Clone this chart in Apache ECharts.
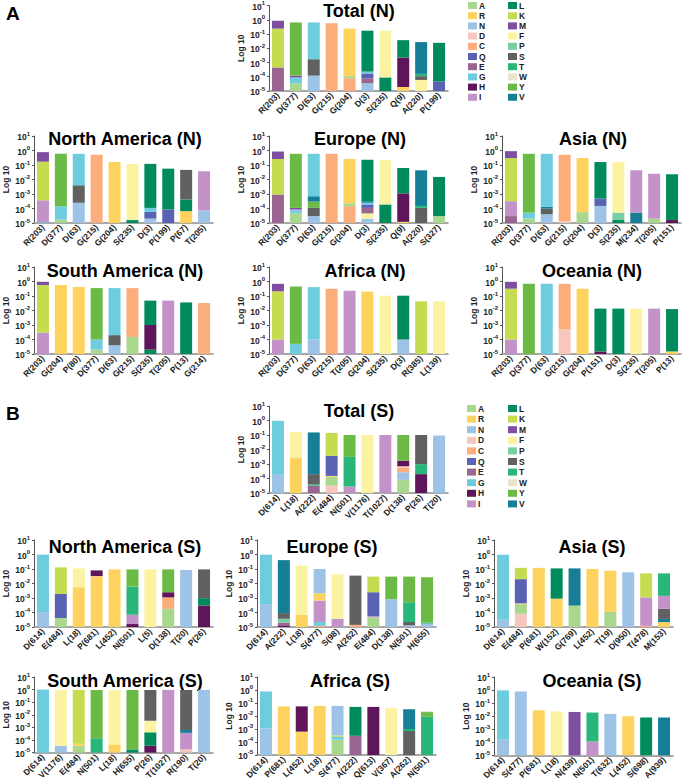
<!DOCTYPE html>
<html><head><meta charset="utf-8">
<script src="https://cdn.jsdelivr.net/npm/echarts@6/dist/echarts.min.js"></script>
<style>html,body{margin:0;padding:0;background:#fff}#c{width:685px;height:782px}</style>
</head><body><div id="c"></div>
<script>
// amino-acid legend keys and colours
const AA = ['A','R','N','D','C','Q','E','G','H','I','L','K','M','F','P','S','T','W','Y','V'];
const AA_COLORS = ['#a9d78e','#fed25e','#9dc3e7','#f6c7bd','#fbad7b','#5a62b3','#9b6592','#6dcddf','#5f1559','#c292c8',
                   '#008b5d','#c6dc50','#7f4ea0','#fbf3a2','#78cea2','#616161','#29b67a','#ebe4cc','#6aba45','#177e97'];
// tick label exponents (10^n)
const Y_EXPONENTS = [-5,-4,-3,-2,-1,0,1];

// Each bar: list of [amino acid, cumulative top of that segment] from bottom to top
const totalN_cats = ['R(203)','D(377)','D(63)','G(215)','G(204)','D(3)','S(235)','Q(9)','A(220)','P(199)'];
const totalN_stacks = [
  [['E',4.5e-4],['K',0.24],['M',0.85]],
  [['A',3.5e-5],['G',9e-5],['M',1.2e-4],['Y',0.65]],
  [['N',1.2e-4],['S',1.7e-3],['G',0.65]],
  [['C',0.56]],
  [['C',7.8e-5],['A',1.1e-4],['R',0.24]],
  [['N',3.5e-5],['E',7.8e-5],['Q',1.7e-4],['G',2.3e-4],['L',0.17]],
  [['L',9e-5],['F',0.17]],
  [['R',1.9e-5],['H',2.2e-3],['L',0.037]],
  [['F',6e-5],['S',1.1e-4],['T',1.6e-4],['V',0.027]],
  [['Q',4.6e-5],['L',0.024]]
];
const naN_cats = ['R(203)','D(377)','D(63)','G(215)','G(204)','S(235)','D(3)','P(199)','P(67)','T(205)'];
const naN_stacks = [
  [['G',1.15e-5],['I',3.7e-4],['K',0.17],['M',0.77]],
  [['A',1.7e-5],['G',1.4e-4],['Y',0.6]],
  [['N',2.5e-4],['S',4e-3],['G',0.59]],
  [['C',0.51]],
  [['R',0.16]],
  [['L',1.6e-5],['F',0.12]],
  [['N',2e-5],['Q',5.9e-5],['G',1.1e-4],['L',0.12]],
  [['Q',8.6e-5],['L',0.056]],
  [['R',6.6e-5],['L',4.2e-4],['S',0.046]],
  [['N',7.4e-5],['I',0.037]]
];
const euN_cats = ['R(203)','D(377)','D(63)','G(215)','G(204)','D(3)','S(235)','Q(9)','A(220)','S(327)'];
const euN_stacks = [
  [['E',9.3e-4],['K',0.26],['M',0.85]],
  [['A',4.6e-5],['G',6.6e-5],['N',8.5e-5],['M',1.1e-4],['Y',0.59]],
  [['N',3e-5],['S',1.1e-4],['Y',3e-4],['V',7e-4],['G',0.59]],
  [['C',0.59]],
  [['C',1.45e-4],['A',2.3e-4],['R',0.26]],
  [['N',2e-5],['F',4.6e-5],['E',1.1e-4],['Q',1.9e-4],['G',2.5e-4],['V',3.2e-4],['L',0.23]],
  [['L',1.9e-4],['F',0.23]],
  [['R',1.2e-5],['H',1.1e-3],['L',0.062]],
  [['S',1.1e-4],['T',1.5e-4],['V',0.043]],
  [['A',3e-5],['L',0.015]]
];
const asN_cats = ['R(203)','D(377)','D(63)','G(215)','G(204)','D(3)','S(235)','M(234)','T(205)','P(151)'];
const asN_stacks = [
  [['E',3e-5],['I',3.2e-4],['K',0.3],['M',0.9]],
  [['A',2e-5],['G',5.2e-5],['Y',0.59]],
  [['N',4e-5],['S',9.7e-5],['V',1.3e-4],['G',0.59]],
  [['D',1.4e-5],['C',0.51]],
  [['A',5.6e-5],['R',0.3]],
  [['N',1.5e-4],['Q',4.5e-4],['V',5e-4],['L',0.16]],
  [['L',1.6e-5],['P',5.2e-5],['F',0.16]],
  [['V',5.2e-5],['I',0.043]],
  [['A',2e-5],['I',0.025]],
  [['H',1.6e-5],['L',0.023]]
];
const saN_cats = ['R(203)','G(204)','P(80)','D(377)','D(63)','G(215)','S(235)','T(205)','P(13)','G(214)'];
const saN_stacks = [
  [['I',3e-4],['K',0.57],['M',0.95]],
  [['R',0.57]],
  [['R',0.41]],
  [['A',2e-5],['G',1e-4],['Y',0.35]],
  [['N',4e-5],['S',2e-4],['G',0.35]],
  [['A',1.5e-4],['C',0.35]],
  [['L',2e-5],['H',1e-3],['L',0.048]],
  [['I',0.048]],
  [['L',0.036]],
  [['C',0.033]]
];
const afN_cats = ['R(203)','D(377)','D(63)','G(215)','T(205)','G(204)','S(235)','D(3)','R(385)','L(139)'];
const afN_stacks = [
  [['I',1e-4],['K',0.21],['M',0.69]],
  [['G',5e-5],['Y',0.45]],
  [['N',1e-4],['G',0.41]],
  [['C',0.32]],
  [['I',0.23]],
  [['R',0.2]],
  [['F',0.105]],
  [['N',1e-4],['L',0.105]],
  [['K',0.043]],
  [['F',0.043]]
];
const ocN_cats = ['R(203)','D(377)','D(63)','G(215)','G(204)','P(151)','D(3)','S(235)','T(205)','P(13)'];
const ocN_stacks = [
  [['I',1e-4],['K',0.32],['M',0.95]],
  [['Y',0.69]],
  [['G',0.69]],
  [['D',5e-4],['C',0.69]],
  [['R',0.32]],
  [['H',1.5e-5],['L',0.0135]],
  [['L',0.0135]],
  [['F',0.0135]],
  [['I',0.0135]],
  [['R',1.5e-5],['L',0.0125]]
];
const totalS_cats = ['D(614)','L(18)','A(222)','E(484)','N(501)','V(1176)','T(1027)','D(138)','P(26)','T(20)'];
const totalS_stacks = [
  [['N',2e-4],['G',0.95]],
  [['R',2.8e-3],['F',0.16]],
  [['E',3.2e-5],['T',4e-5],['S',2e-4],['V',0.15]],
  [['D',3.2e-5],['A',1.3e-4],['R',1.5e-4],['Q',3.7e-3],['K',0.14]],
  [['I',2.8e-5],['T',3.1e-3],['Y',0.1]],
  [['F',0.1]],
  [['I',0.1]],
  [['A',8e-5],['N',2.7e-4],['C',5.7e-4],['D',7e-4],['H',1.7e-3],['Y',0.1]],
  [['H',2e-4],['T',9.8e-4],['S',0.1]],
  [['N',0.092]]
];
const naS_cats = ['D(614)','E(484)','L(18)','P(681)','L(452)','N(501)','L(5)','D(138)','T(20)','P(26)'];
const naS_stacks = [
  [['N',1.07e-4],['G',0.98]],
  [['A',4.2e-5],['Q',1.9e-3],['K',0.13]],
  [['R',5.5e-3],['F',0.11]],
  [['R',0.03],['C',0.033],['H',0.08]],
  [['R',0.094]],
  [['H',1.6e-5],['I',7e-5],['T',6.1e-3],['Y',0.094]],
  [['F',0.094]],
  [['A',1.8e-4],['C',1.1e-3],['H',2.5e-3],['Y',0.094]],
  [['N',0.085]],
  [['H',3e-4],['L',9.7e-4],['S',0.094]]
];
const euS_cats = ['D(614)','A(222)','L(18)','S(477)','S(98)','A(262)','E(484)','D(138)','N(501)','H(655)'];
const euS_stacks = [
  [['N',3.8e-4],['G',0.98]],
  [['H',1.3e-5],['E',2e-5],['P',3.7e-5],['S',9.1e-5],['V',0.41]],
  [['R',6.9e-5],['F',0.17]],
  [['C',1.2e-5],['G',2.2e-5],['I',6.7e-4],['R',2.1e-3],['N',0.1]],
  [['I',3.7e-5],['F',0.043]],
  [['C',1.4e-5],['S',0.035]],
  [['A',4.6e-5],['I',5.6e-5],['Q',2.5e-3],['K',0.03]],
  [['N',8.3e-4],['Y',0.03]],
  [['N',1.3e-5],['S',2.2e-5],['T',5.1e-4],['Y',0.03]],
  [['N',1.7e-5],['T',2e-5],['Y',0.027]]
];
const asS_cats = ['D(614)','E(484)','P(681)','W(152)','G(769)','L(452)','T(19)','D(950)','T(478)','M(153)'];
const asS_stacks = [
  [['N',3.2e-5],['G',0.98]],
  [['D',8.1e-5],['A',3.8e-4],['R',4.3e-4],['Q',0.02],['K',0.12]],
  [['R',0.12]],
  [['R',9e-4],['L',0.11]],
  [['A',3e-4],['V',0.11]],
  [['R',0.1]],
  [['A',1.1e-4],['R',0.076]],
  [['N',0.059]],
  [['C',1.2e-5],['I',1.1e-3],['K',0.05]],
  [['R',2.2e-5],['V',3.6e-5],['S',1.8e-4],['I',1.4e-3],['T',0.05]]
];
const saS_cats = ['D(614)','V(1176)','E(484)','N(501)','L(18)','H(655)','P(26)','T(1027)','R(190)','T(20)'];
const saS_stacks = [
  [['G',1.0]],
  [['N',3.5e-5],['F',0.95]],
  [['A',3.5e-5],['R',5e-5],['K',0.95]],
  [['T',1.4e-4],['Y',0.93]],
  [['R',4.5e-5],['F',0.93]],
  [['L',1.8e-5],['Y',0.93]],
  [['H',3.5e-5],['L',4.1e-4],['F',3.4e-3],['S',0.93]],
  [['I',0.95]],
  [['D',1.8e-5],['I',3.7e-4],['V',6.3e-4],['S',0.93]],
  [['N',0.95]]
];
const afS_cats = ['D(614)','P(681)','L(452)','L(18)','S(477)','A(222)','Q(613)','V(367)','A(262)','N(501)'];
const afS_stacks = [
  [['N',1.1e-3],['G',0.77]],
  [['R',0.055]],
  [['R',6.3e-4],['H',0.055]],
  [['R',0.06]],
  [['A',1.5e-4],['G',2.5e-4],['K',3.2e-4],['N',0.06]],
  [['E',3e-4],['L',0.05]],
  [['H',0.05]],
  [['F',0.042]],
  [['S',7e-4],['T',1e-3],['V',0.033]],
  [['T',8.7e-3],['Y',0.02],['A',0.022]]
];
const ocS_cats = ['D(614)','S(477)','P(681)','L(18)','N(439)','N(501)','T(632)','L(452)','S(698)','A(939)'];
const ocS_stacks = [
  [['N',1.7e-4],['G',0.95]],
  [['N',0.77]],
  [['R',0.028]],
  [['F',0.023]],
  [['M',0.021]],
  [['I',1.15e-4],['T',0.019]],
  [['N',0.015]],
  [['R',0.01]],
  [['L',0.0079]],
  [['V',0.0079]]
];

// ---------- layout (positions only) ----------
const ROWY = {aT:4, a1:136, a2:267, bT:406, b1:540, b2:677}; // y of 10^1
const PANELS = [
  {title:'Total (N)', cats:totalN_cats, stacks:totalN_stacks, left:269, top:ROWY.aT, tx:359, ty:11},
  {title:'North America (N)', cats:naN_cats, stacks:naN_stacks, left:34, top:ROWY.a1, tx:125, ty:139},
  {title:'Europe (N)', cats:euN_cats, stacks:euN_stacks, left:269, top:ROWY.a1, tx:360, ty:139},
  {title:'Asia (N)', cats:asN_cats, stacks:asN_stacks, left:502, top:ROWY.a1, tx:593, ty:139},
  {title:'South America (N)', cats:saN_cats, stacks:saN_stacks, left:34, top:ROWY.a2, tx:125, ty:271},
  {title:'Africa (N)', cats:afN_cats, stacks:afN_stacks, left:269, top:ROWY.a2, tx:365, ty:271},
  {title:'Oceania (N)', cats:ocN_cats, stacks:ocN_stacks, left:502, top:ROWY.a2, tx:592, ty:271},
  {title:'Total (S)', cats:totalS_cats, stacks:totalS_stacks, left:269, top:ROWY.bT, tx:359, ty:411},
  {title:'North America (S)', cats:naS_cats, stacks:naS_stacks, left:34, top:ROWY.b1, tx:125, ty:547},
  {title:'Europe (S)', cats:euS_cats, stacks:euS_stacks, left:257, top:ROWY.b1, tx:332, ty:547},
  {title:'Asia (S)', cats:asS_cats, stacks:asS_stacks, left:494, top:ROWY.b1, tx:592, ty:547},
  {title:'South America (S)', cats:saS_cats, stacks:saS_stacks, left:34, top:ROWY.b2, tx:125, ty:681},
  {title:'Africa (S)', cats:afS_cats, stacks:afS_stacks, left:257, top:ROWY.b2, tx:350, ty:681},
  {title:'Oceania (S)', cats:ocS_cats, stacks:ocS_stacks, left:494, top:ROWY.b2, tx:592, ty:681}
];
const GRID_W = 179, GRID_H = 87;
const FONT = '"Liberation Sans", Arial, sans-serif';
const COLOR = {}; AA.forEach((a,i)=>COLOR[a]=AA_COLORS[i]);

const grids=[], xAxes=[], yAxes=[], series=[], graphics=[];
PANELS.forEach((p,i)=>{
  grids.push({left:p.left, top:p.top, width:GRID_W, height:GRID_H});
  xAxes.push({type:'category', gridIndex:i, data:p.cats,
    axisLine:{lineStyle:{color:'#8a8a8a', width:1.5}}, axisTick:{show:false},
    axisLabel:{rotate:45, interval:0, fontSize:8.5, fontWeight:'bold', color:'#222', fontFamily:FONT, margin:3}});
  yAxes.push({type:'log', gridIndex:i, logBase:10, min:Math.pow(10,Y_EXPONENTS[0]), max:Math.pow(10,Y_EXPONENTS[Y_EXPONENTS.length-1]),
    startValue:Math.pow(10,Y_EXPONENTS[0]),
    name:'Log 10', nameLocation:'middle', nameGap:24, nameRotate:90,
    nameTextStyle:{fontSize:8.5, fontWeight:'bold', color:'#222', fontFamily:FONT},
    axisLine:{show:true, lineStyle:{color:'#555', width:1}},
    axisTick:{show:true, length:2, lineStyle:{color:'#555'}},
    splitLine:{show:false},
    axisLabel:{margin:4, color:'#222', fontFamily:FONT,
      formatter:v=>{const e=Math.round(Math.log10(v)); return '{b|10}{s|'+(e<0?'-'+(-e):e)+'}';},
      rich:{b:{fontSize:8.5, fontWeight:'bold', fontFamily:FONT, color:'#222', verticalAlign:'bottom', lineHeight:11},
            s:{fontSize:6, fontWeight:'bold', fontFamily:FONT, color:'#222', verticalAlign:'top', lineHeight:11}}}});
  const nL = Math.max(...p.stacks.map(s=>s.length));
  for(let k=0;k<nL;k++){
    series.push({type:'bar', name:'seg', xAxisIndex:i, yAxisIndex:i, stack:'p'+i, barWidth:12,
      silent:true, animation:false,
      data:p.stacks.map(st=>{
        if(k>=st.length) return '-';
        const [aa,top]=st[k]; const prev=k?st[k-1][1]:0;
        return {value:top-prev, itemStyle:{color:COLOR[aa]}};
      })});
  }
  graphics.push({type:'text', x:p.tx, y:p.ty, style:{text:p.title, fill:'#000', font:'bold 18px '+FONT, align:'center', verticalAlign:'middle'}});
});
// hidden grid holding legend-only series
const hidden = PANELS.length;
grids.push({left:-200, top:-200, width:10, height:10});
xAxes.push({type:'category', gridIndex:hidden, show:false, data:['x']});
yAxes.push({type:'value', gridIndex:hidden, show:false});
AA.forEach((a,i)=>series.push({type:'bar', name:a, xAxisIndex:hidden, yAxisIndex:hidden, data:[], itemStyle:{color:AA_COLORS[i]}}));

graphics.push({type:'text', x:6, y:13, style:{text:'A', fill:'#000', font:'bold 19px '+FONT, align:'left', verticalAlign:'middle'}});
graphics.push({type:'text', x:6, y:413, style:{text:'B', fill:'#000', font:'bold 19px '+FONT, align:'left', verticalAlign:'middle'}});

function legend(items,left,top,gap){
  return {data:items, orient:'vertical', left:left, top:top, icon:'rect', itemWidth:9, itemHeight:7, itemGap:gap,
    selectedMode:false, padding:0,
    textStyle:{fontSize:8.5, fontWeight:'bold', color:'#222', fontFamily:FONT, lineHeight:8, padding:[0,0,0,-3]}};
}
const chart = echarts.init(document.getElementById('c'), null, {renderer:'svg'});
chart.setOption({
  animation:false,
  grid:grids, xAxis:xAxes, yAxis:yAxes, series:series, graphic:graphics,
  legend:[legend(AA.slice(0,10),468,1,1.2), legend(AA.slice(10),508,1,1.2),
          legend(AA.slice(0,10),467,404,1.6), legend(AA.slice(10),508,404,1.6)]
});
</script></body></html>
